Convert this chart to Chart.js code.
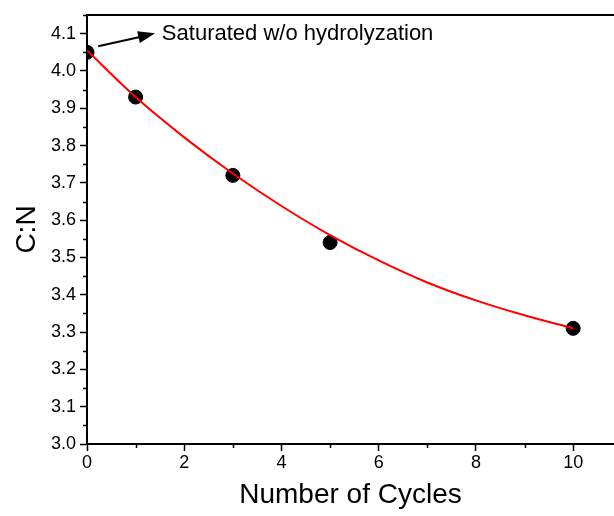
<!DOCTYPE html>
<html>
<head>
<meta charset="utf-8">
<script src="https://cdn.jsdelivr.net/npm/chart.js@4.4.0/dist/chart.umd.min.js"></script>
<style>
  html, body { margin: 0; padding: 0; background: #fff; overflow: hidden; }
  #wrap { width: 614px; height: 516px; }
</style>
</head>
<body>
<div id="wrap"><canvas id="cnChart"></canvas></div>
<script>
// measured points
const cycles = [0, 1, 3, 5, 10];
const ratio = [4.05, 3.93, 3.72, 3.54, 3.31];

// fitted curve
const fitX = [0, 1, 2, 3, 4, 5, 6, 7, 8, 9, 10];
const fitY = [4.055, 3.930, 3.822, 3.725, 3.638, 3.560, 3.492, 3.433, 3.385, 3.345, 3.310];

const xTicks = [0, 2, 4, 6, 8, 10];
const xMinor = [1, 3, 5, 7, 9];
const yTicks = [3.0, 3.1, 3.2, 3.3, 3.4, 3.5, 3.6, 3.7, 3.8, 3.9, 4.0, 4.1];
const yMinor = [3.05, 3.15, 3.25, 3.35, 3.45, 3.55, 3.65, 3.75, 3.85, 3.95, 4.05, 4.15];

const note = "Saturated w/o hydrolyzation";

const FONT = "'Liberation Sans', Arial, sans-serif";

const framePlugin = {
  id: "frame",
  afterDraw(chart) {
    const ctx = chart.ctx;
    const xs = chart.scales.x, ys = chart.scales.y;
    const area = chart.chartArea;
    ctx.save();
    ctx.strokeStyle = "#000";
    // top border
    ctx.lineWidth = 2;
    ctx.beginPath();
    ctx.moveTo(area.left - 1, area.top);
    ctx.lineTo(chart.width, area.top);
    ctx.stroke();
    // minor ticks
    ctx.lineWidth = 1.5;
    ctx.beginPath();
    xMinor.forEach(v => {
      const px = Math.round(xs.getPixelForValue(v)) + 0.5;
      ctx.moveTo(px, area.bottom);
      ctx.lineTo(px, area.bottom + 4);
    });
    yMinor.forEach(v => {
      const py = Math.round(ys.getPixelForValue(v)) + 0.5;
      ctx.moveTo(area.left, py);
      ctx.lineTo(area.left - 4, py);
    });
    ctx.stroke();
    // annotation arrow
    const x1 = xs.getPixelForValue(0.23), y1 = ys.getPixelForValue(4.066);
    const x2 = xs.getPixelForValue(1.40), y2 = ys.getPixelForValue(4.101);
    ctx.lineWidth = 2;
    ctx.beginPath();
    ctx.moveTo(x1, y1);
    ctx.lineTo(x2 - 14, y2 + 3.5);
    ctx.stroke();
    const ang = Math.atan2(y2 - y1, x2 - x1);
    ctx.fillStyle = "#000";
    ctx.beginPath();
    ctx.moveTo(x2, y2);
    ctx.lineTo(x2 - 17 * Math.cos(ang) + 6 * Math.sin(ang), y2 - 17 * Math.sin(ang) - 6 * Math.cos(ang));
    ctx.lineTo(x2 - 17 * Math.cos(ang) - 6 * Math.sin(ang), y2 - 17 * Math.sin(ang) + 6 * Math.cos(ang));
    ctx.closePath();
    ctx.fill();
    ctx.font = "22px " + FONT;
    ctx.textBaseline = "middle";
    ctx.fillText(note, xs.getPixelForValue(1.54), ys.getPixelForValue(4.1));
    ctx.restore();
  }
};

new Chart(document.getElementById("cnChart"), {
  type: "scatter",
  data: {
    datasets: [
      {
        type: "line",
        label: "fit",
        data: fitX.map((x, i) => ({ x: x, y: fitY[i] })),
        borderColor: "#ff0000",
        borderWidth: 2,
        pointRadius: 0,
        tension: 0.4,
        cubicInterpolationMode: "monotone",
        fill: false,
        order: 0,
        clip: 0
      },
      {
        label: "C:N",
        data: cycles.map((x, i) => ({ x: x, y: ratio[i] })),
        backgroundColor: "#000",
        borderColor: "#000",
        pointRadius: 7,
        pointHoverRadius: 7,
        order: 1,
        clip: 0
      }
    ]
  },
  options: {
    responsive: true,
    maintainAspectRatio: false,
    animation: false,
    layout: { autoPadding: false, padding: { top: 15, right: 0, left: 0, bottom: 0 } },
    plugins: {
      legend: { display: false },
      tooltip: { enabled: false }
    },
    scales: {
      x: {
        type: "linear",
        min: 0,
        max: 10.84,
        afterBuildTicks: s => { s.ticks = xTicks.map(v => ({ value: v })); },
        afterFit: s => { s.height = 72; },
        ticks: { color: "#000", font: { size: 18, family: FONT }, padding: 1 },
        grid: { display: true, drawOnChartArea: false, drawTicks: true, tickLength: 7, color: "#000", tickWidth: 1.5 },
        border: { display: true, color: "#000", width: 2 },
        title: { display: true, text: "Number of Cycles", color: "#000", font: { size: 28, family: FONT }, padding: { top: 0 } }
      },
      y: {
        type: "linear",
        min: 3.0,
        max: 4.15,
        afterBuildTicks: s => { s.ticks = yTicks.map(v => ({ value: v })); },
        afterFit: s => { s.width = 87; },
        ticks: { color: "#000", font: { size: 18, family: FONT }, padding: 4, callback: v => v.toFixed(1) },
        grid: { display: true, drawOnChartArea: false, drawTicks: true, tickLength: 7, color: "#000", tickWidth: 1.5 },
        border: { display: true, color: "#000", width: 2 },
        title: { display: true, text: "C:N", color: "#000", font: { size: 28, family: FONT }, padding: { top: 10, bottom: 4 } }
      }
    }
  },
  plugins: [framePlugin]
});
</script>
</body>
</html>
